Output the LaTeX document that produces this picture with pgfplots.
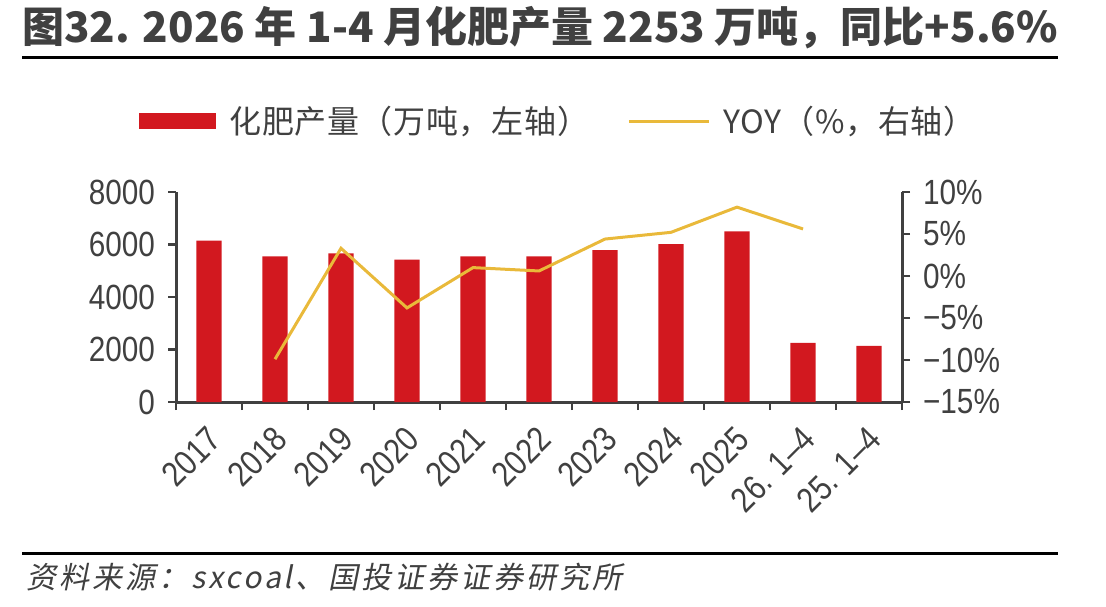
\documentclass[border=0pt]{standalone}
\usepackage{fontspec}
\setmainfont{Liberation Sans}
\newfontfamily\narrow[FakeStretch=0.85]{Liberation Sans}
\newfontfamily\cjk{Noto Sans CJK SC}
\newfontfamily\cjkleg[LetterSpace=2.5]{Noto Sans CJK SC}
\newfontfamily\cjkslant[FakeSlant=0.2,LetterSpace=10]{Noto Sans CJK SC}
\usepackage{pgfplots}
\pgfplotsset{compat=1.18}
\definecolor{barred}{HTML}{D2181F}
\definecolor{gold}{HTML}{E9B93A}
\definecolor{axgray}{HTML}{404040}
\begin{document}
\begin{tikzpicture}
\node[anchor=center, font=\cjk\bfseries\fontsize{21}{24}\selectfont, text=axgray] at (270pt,-14pt) {图32. 2026 年 1-4 月化肥产量 2253 万吨，同比+5.6\%};
\draw[black, line width=1.5pt] (11pt,-28.5pt) -- (529pt,-28.5pt);
\draw[black, line width=1.5pt] (11pt,-276.5pt) -- (529pt,-276.5pt);
\node[anchor=west, font=\cjkslant\fontsize{15}{17}\selectfont, text=axgray, inner sep=0pt] at (13pt,-288.5pt) {资料来源：sxcoal、国投证券证券研究所};

\begin{axis}[at={(88pt,-201pt)}, anchor=south west, scale only axis,
  width=363pt, height=105pt,
  xmin=-0.5, xmax=10.5, ymin=0, ymax=8000,
  axis y line*=left, axis x line*=bottom,
  axis line style={axgray, line width=1.5pt},
  tick align=outside,
  xtick={0,...,10},
  xticklabels={2017,2018,2019,2020,2021,2022,2023,2024,2025,{26. 1–4},{25. 1–4}},
  major x tick style={draw=none},
  minor xtick={-0.5,0.5,...,10.5},
  minor tick length=4pt,
  minor x tick style={axgray, line width=1.2pt},
  ytick={0,2000,4000,6000,8000},
  major tick length=4pt,
  y tick style={axgray, line width=1.2pt},
  /pgf/number format/1000 sep={},
  /pgf/number format/assume math mode=true,
  xticklabel style={rotate=45, anchor=north east, font=\narrow\fontsize{17.5}{17.5}\selectfont, text=axgray, inner sep=1pt, yshift=-3pt, xshift=-5pt},
  yticklabel style={font=\narrow\fontsize{17.5}{17.5}\selectfont, text=axgray, xshift=-3pt},
  legend columns=2,
  legend style={draw=none, fill=none, at={(axis description cs:-0.051,1.338)}, anchor=west, inner sep=0pt,
    nodes={inner xsep=0pt},
    font=\cjkleg\fontsize{16}{18}\selectfont, text=axgray,
    /tikz/every odd column/.append style={column sep=6.5pt},
    /tikz/every even column/.append style={column sep=19pt}},
]
\addplot[ybar, fill=barred, draw=none, bar width=0.38,
  legend image code/.code={\fill[barred] (0pt,-4pt) rectangle (38.5pt,4pt);}]
  coordinates {(0,6146)(1,5544)(2,5659)(3,5429)(4,5544)(5,5544)(6,5787)(7,6018)(8,6504)(9,2253)(10,2140)};
\addlegendentry{化肥产量（万吨，左轴）}
\addlegendimage{gold, line width=1.5pt, legend image code/.code={\draw[gold, line width=1.5pt] (0pt,0pt) -- (40pt,0pt);}}
\addlegendentry{YOY（\%，右轴）}
\end{axis}

\begin{axis}[at={(88pt,-201pt)}, anchor=south west, scale only axis,
  width=363pt, height=105pt,
  xmin=-0.5, xmax=10.5, ymin=-15, ymax=10,
  axis y line*=right, axis x line=none,
  axis line style={axgray, line width=1.5pt},
  tick align=outside,
  ytick={-15,-10,-5,0,5,10},
  yticklabels={−15\%,−10\%,−5\%,0\%,5\%,10\%},
  major tick length=4pt,
  y tick style={axgray, line width=1.2pt},
  yticklabel style={font=\narrow\fontsize{17.5}{17.5}\selectfont, text=axgray, xshift=3pt},
]
\addplot[gold, line width=1.5pt, no markers]
  coordinates {(1,-9.9)(2,3.3)(3,-3.8)(4,1.0)(5,0.6)(6,4.4)(7,5.2)(8,8.2)(9,5.6)};
\end{axis}
\pgfresetboundingbox
\path[use as bounding box] (0pt,0pt) rectangle (553pt,-303pt);
\end{tikzpicture}
\end{document}
